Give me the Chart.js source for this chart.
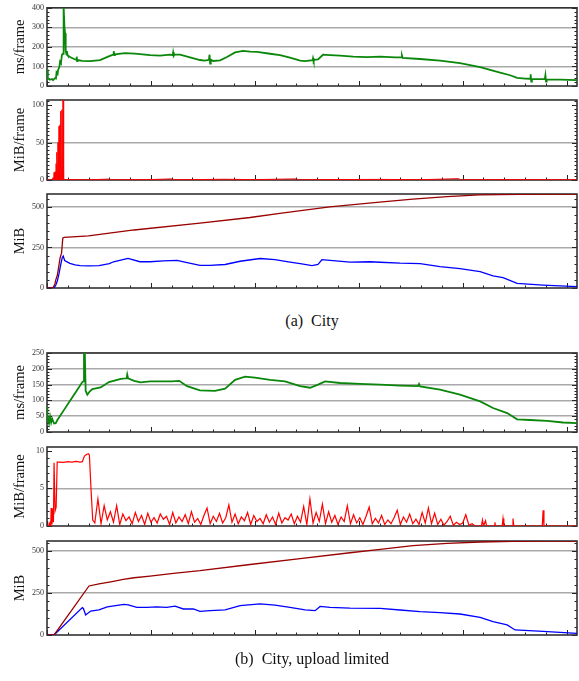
<!DOCTYPE html>
<html>
<head>
<meta charset="utf-8">
<script src="https://cdn.jsdelivr.net/npm/chart.js@4.4.0/dist/chart.umd.min.js"></script>
<style>
  html, body { margin: 0; padding: 0; background: #fff; }
  #page { position: relative; width: 579px; height: 681px; overflow: hidden; }
  .panel { position: absolute; left: 0; }
  .cap { position: absolute; left: 47px; width: 530px; text-align: center;
         font: 16px "Liberation Serif", serif; color: #111; white-space: pre; }
</style>
</head>
<body>
<div id="page">
  <canvas class="panel" id="c1" width="579" height="94"  style="top:0px"></canvas>
  <canvas class="panel" id="c2" width="579" height="96"  style="top:92px"></canvas>
  <canvas class="panel" id="c3" width="579" height="110" style="top:186px"></canvas>
  <div class="cap" style="top:312px">(a)  City</div>
  <canvas class="panel" id="c4" width="579" height="95"  style="top:345px"></canvas>
  <canvas class="panel" id="c5" width="579" height="95"  style="top:439px"></canvas>
  <canvas class="panel" id="c6" width="579" height="110" style="top:533px"></canvas>
  <div class="cap" style="top:650px">(b)  City, upload limited</div>
</div>
<script>
// x axis: frame time, minor tick every 10, major every 50
const X_MAX = 255
const X_MINOR = 10
const X_MAJOR = 50

// (a) City — latency, ms/frame  [x, value]
const cityLatency = [
  [0, 85], [0.4, 40], [1.4, 32], [2.4, 36], [2.9, 30], [3.8, 40], [4.3, 38], [4.6, 70],
  [5.1, 62], [5.3, 80], [6.0, 100], [6.3, 125], [6.7, 118], [7.2, 160], [7.7, 165], [7.9, 172],
  [8.1, 410], [8.4, 300], [8.7, 270], [9.0, 180], [9.4, 160], [9.6, 178], [9.8, 160], [10.1, 155],
  [11.1, 148], [13.0, 138], [14.0, 135], [14.3, 150], [14.5, 128], [14.7, 133], [16.8, 128],
  [20.7, 127], [25.5, 132], [29.4, 150], [31.8, 160], [32.1, 178], [32.4, 158], [32.7, 162],
  [37.5, 168], [42.3, 166], [49.6, 158], [54.4, 155], [59.2, 160], [60.5, 158], [60.7, 172],
  [61.0, 155], [61.3, 160], [64.0, 160], [68.8, 147], [73.6, 133], [76.0, 130], [77.9, 134],
  [78.2, 160], [78.5, 115], [78.8, 135], [79.9, 128], [83.3, 131], [86.6, 148], [90.5, 172],
  [94.3, 180], [97.7, 176], [101.1, 175], [107.3, 165], [112.1, 158], [116.9, 145], [121.8, 130],
  [124.2, 127], [127.8, 132], [128.0, 142], [128.3, 128], [128.6, 134], [130.4, 136], [132.8, 160],
  [136.2, 158], [141, 155], [147.3, 150], [154, 148], [160.3, 150], [167.5, 146], [170.5, 146],
  [170.8, 155], [171.1, 144], [179.5, 138], [189.1, 130], [198.7, 117], [208.4, 97], [218, 68],
  [222.8, 55], [226.2, 42], [230, 38], [232.4, 37], [232.7, 60], [233.0, 22], [233.3, 36],
  [239.5, 35], [239.8, 55], [240.1, 22], [240.4, 34], [246.9, 33], [255, 30]
]

// (a) City — upload, MiB/frame
const cityUpload = [
  [0, 0], [2.5, 0], [2.9, 3], [3.2, 0], [3.4, 10], [3.7, 0], [3.9, 11], [4.2, 0], [4.4, 22],
  [4.6, 0], [4.8, 37], [5.1, 0], [5.3, 50], [5.5, 0], [5.8, 72], [6.0, 0], [6.3, 74], [6.5, 0],
  [6.7, 92], [7.0, 0], [7.2, 94], [7.5, 0], [7.7, 115], [8.0, 0], [10, 0.5], [20, 0.3],
  [30, 1.2], [31, 0.3], [50, 0.6], [60, 1.5], [61, 0.4], [70, 0.5], [85, 1.0], [100, 0.5],
  [120, 1.5], [121, 0.3], [140, 0.6], [160, 0.8], [180, 0.4], [198, 1.8], [199, 0.3],
  [220, 0.5], [240, 0.4], [255, 0.3]
]

// (a) City — total uploaded MiB (dark red) and resident MiB (blue)
const cityTotal = [
  [0, 0], [2.9, 2], [3.8, 25], [4.2, 49], [5.0, 80], [6.3, 185], [7.0, 215], [7.6, 308],
  [8.2, 312], [20, 322], [30, 338], [41.9, 358], [73.6, 400], [97.7, 435], [112, 460],
  [136, 500], [160, 530], [176, 548], [192.5, 564], [208, 574], [227.6, 578], [255, 580]
]
const cityMemory = [
  [0, 0], [3.5, 2], [4.3, 20], [5.0, 45], [5.8, 90], [6.7, 150], [7.3, 185], [7.8, 197],
  [8.5, 170], [9.9, 160], [11, 152], [13.5, 142], [16, 138], [20, 136], [25, 138], [30, 150],
  [32, 162], [38, 180], [39, 183], [44.7, 162], [49.6, 162], [56, 167], [62.6, 170], [67.4, 157],
  [73.6, 140], [78.4, 140], [85.7, 145], [92.9, 165], [102.5, 182], [109.7, 175], [116.9, 160],
  [121.8, 150], [127.5, 138], [130.4, 145], [132.3, 175], [136.2, 170], [145.8, 160],
  [155.4, 162], [160.3, 159], [169.9, 153], [179.5, 150], [189.1, 132], [198.7, 119],
  [208.4, 101], [214.6, 75], [219.4, 64], [226.2, 29], [238.7, 18], [255, 8]
]

// (b) City, upload limited — latency, ms/frame
const limitedLatency = [
  [0, 80], [0.2, 30], [0.5, 45], [1, 28], [1.5, 48], [2, 30], [2.5, 42], [3.4, 27], [4.2, 28],
  [5, 38], [8.2, 70], [11.4, 102], [14.6, 134], [17, 158], [17.5, 160], [17.8, 262], [18.2, 250],
  [18.6, 130], [19.4, 118], [20.5, 128], [21.8, 136], [25.8, 141], [29.8, 158], [35.5, 168],
  [38.3, 170], [38.6, 182], [39, 170], [41.9, 162], [45, 157], [49.6, 160], [60, 160],
  [63.6, 162], [67.4, 145], [73.6, 132], [80.8, 130], [85.7, 137], [90.5, 165], [95.3, 175],
  [100.1, 172], [107.3, 165], [114.5, 160], [121.8, 145], [126.6, 140], [130.4, 150],
  [133.8, 160], [141, 155], [150.6, 152], [160.3, 150], [169.9, 147], [178.5, 145], [179, 152],
  [179.5, 144], [189.1, 134], [198.7, 118], [208.4, 97], [214.6, 76], [221.4, 60], [226.2, 40],
  [232.4, 38], [240.6, 35], [248.3, 30], [255, 28]
]

// (b) upload, MiB/frame: start-up, steady noisy part (x = 23, 24.5, 26 ...), tail
const limitedUploadHead = [
  [0, 0], [0.8, 0], [1, 0.3], [1.2, 0], [1.6, 0.4], [1.8, 0], [2.0, 2.4], [2.4, 0.2], [2.9, 2.3],
  [3.1, 0.5], [3.4, 8.4], [3.9, 2], [4.4, 2.5], [4.9, 8.5], [6, 8.5], [8, 8.45], [10, 8.55],
  [12, 8.5], [14, 8.6], [16, 8.5], [17, 8.55], [18, 9.3], [19, 9.5], [20, 9.6], [20.4, 9.4],
  [21.2, 4.8], [22, 0.8]
]
const NOISE_X0 = 23
const NOISE_DX = 1.5
const limitedUploadNoise = [
  0.4, 3.6, 0.3, 2.7, 0.8, 1.9, 0.5, 2.7, 0.2, 1.6, 0.7, 1.2, 0.3, 1.8, 0.6, 1.4, 0.2, 1.7, 0.5, 1.1,
  0.4, 1.6, 0.9, 1.3, 0.2, 1.8, 0.4, 1.2, 0.6, 1.5, 0.3, 1.9, 0.5, 1.0, 0.2, 1.4, 2.4, 0.3, 1.3, 0.6,
  1.7, 0.4, 1.1, 2.8, 0.5, 1.6, 0.3, 1.2, 0.7, 1.8, 0.2, 1.4, 0.6, 1.0, 0.3, 1.5, 0.5, 1.2, 0.2, 1.7,
  0.4, 1.1, 0.8, 1.6, 0.3, 1.3, 0.5, 2.6, 0.2, 3.6, 0.4, 1.8, 0.6, 2.9, 0.3, 1.9, 0.5, 1.4, 0.2, 1.2,
  0.6, 2.7, 0.3, 1.5, 0.4, 1.1, 0.2, 1.3, 2.5, 0.3, 1.0, 0.4, 1.4, 0.2, 0.8, 0.3, 1.1, 2.1, 0.2, 1.2,
  0.5, 1.6, 0.3, 0.9, 0.2, 1.8, 0.4, 2.4, 0.3, 1.7, 0.2, 0.9, 0.1, 0.6, 1.3, 0.1, 0.5, 0.2, 0.4, 1.5,
  0.1, 0.3
]
const limitedUploadTail = [
  [206, 0], [209, 0], [209.5, 0.8], [210, 0], [211, 0.7], [211.5, 0], [215.2, 0], [215.5, 0.5],
  [215.8, 0], [219, 0], [219.4, 1.0], [219.8, 0], [223.8, 0], [224.2, 1.0], [224.6, 0],
  [238.3, 0], [238.7, 2.1], [239.1, 0], [255, 0]
]

// (b) total uploaded MiB and resident MiB
const limitedTotal = [
  [0, 0], [3.4, 0], [20.2, 292], [25, 305], [30.7, 317], [36.7, 331], [41.9, 341], [49.6, 351],
  [60.8, 367], [73.6, 383], [97.7, 420], [121.8, 455], [145.8, 490], [160.3, 510], [176.1, 532],
  [192.5, 546], [208.4, 554], [224.3, 558], [240.6, 560], [255, 560]
]
const limitedMemory = [
  [0, 0], [3.4, 0], [17, 163], [17.5, 158], [18.6, 119], [21, 143], [25, 150], [29, 168],
  [37, 183], [39.1, 180], [43.2, 165], [48, 165], [52.8, 168], [57.6, 165], [61.6, 172],
  [65.6, 155], [70.4, 155], [73.6, 141], [78.4, 145], [85.7, 150], [92.9, 175], [102.5, 185],
  [109.7, 178], [116.9, 165], [124.2, 150], [129, 145], [131.4, 170], [136.2, 165], [145.8, 160],
  [160.3, 159], [169.9, 149], [179.5, 139], [189.1, 133], [198.7, 125], [208.4, 105],
  [214.6, 79], [221.4, 60], [225.2, 30], [238.7, 22], [255, 10]
]

const GREEN = '#0a870a'
const RED = '#ff0000'
const DARKRED = '#990000'
const BLUE = '#0000ff'
const GRID = '#a9a9a9'
const FONT = '"Liberation Serif", "Times New Roman", serif'

const toXY = pairs => pairs.map(([x, y]) => ({ x, y }))

// frame and inward ticks, placed through the chart's own scales
const frameTicks = {
  id: 'frameTicks',
  beforeDatasetsDraw(chart, args, opts) {
    const { ctx, chartArea: a, scales: { x, y } } = chart
    ctx.save()
    ctx.strokeStyle = '#222'
    ctx.lineWidth = 1
    ctx.beginPath()
    for (let v = 0; v <= X_MAX; v += X_MINOR) {
      const px = Math.round(x.getPixelForValue(v)) + 0.5
      const len = v % X_MAJOR === 0 ? 5 : 2.5
      ctx.moveTo(px, a.bottom)
      ctx.lineTo(px, a.bottom - len)
    }
    for (let v = 0; v <= opts.max + 1e-9; v += opts.minor) {
      const py = Math.round(y.getPixelForValue(v)) + 0.5
      const len = opts.labels.includes(v) ? 5 : 2.5
      ctx.moveTo(a.left, py)
      ctx.lineTo(a.left + len, py)
      ctx.moveTo(a.right, py)
      ctx.lineTo(a.right - len, py)
    }
    ctx.stroke()
    ctx.lineWidth = 1.6
    ctx.strokeStyle = '#333'
    ctx.strokeRect(a.left, a.top, a.right - a.left, a.bottom - a.top)
    ctx.restore()
  }
}

function makePanel(id, { title, max, minor, labels, grid, padTop = 8, datasets }) {
  return new Chart(document.getElementById(id), {
    type: 'line',
    data: { datasets },
    plugins: [frameTicks],
    options: {
      responsive: false,
      animation: false,
      devicePixelRatio: 1,
      layout: { padding: { top: padTop, bottom: 8, left: 0, right: 2 } },
      elements: { point: { radius: 0 }, line: { tension: 0 } },
      plugins: {
        legend: { display: false },
        tooltip: { enabled: false },
        frameTicks: { max, minor, labels }
      },
      scales: {
        x: { type: 'linear', min: 0, max: X_MAX, display: false },
        y: {
          type: 'linear',
          min: 0,
          max,
          afterFit: s => { s.width = 47 },
          afterBuildTicks: s => { s.ticks = labels.map(value => ({ value })) },
          border: { display: false },
          grid: {
            drawTicks: false,
            lineWidth: 1.5,
            color: c => (grid.includes(c.tick.value) ? GRID : 'rgba(0,0,0,0)')
          },
          ticks: {
            autoSkip: false,
            padding: 3,
            color: '#333',
            font: { family: FONT, size: 8 },
            callback: v => String(v)
          },
          title: {
            display: true,
            text: title,
            color: '#111',
            font: { family: FONT, size: 14.5 },
            padding: { top: 11, bottom: 0 }
          }
        }
      }
    }
  })
}

const line = (data, color, width) => ({
  data: toXY(data), borderColor: color, borderWidth: width, fill: false
})

const limitedUpload = [
  ...limitedUploadHead,
  ...limitedUploadNoise.map((v, i) => [NOISE_X0 + i * NOISE_DX, v]),
  ...limitedUploadTail
]

makePanel('c1', {
  title: 'ms/frame', max: 400, minor: 20, labels: [0, 100, 200, 300, 400],
  grid: [100, 200, 300, 400], padTop: 7,
  datasets: [line(cityLatency, GREEN, 1.8)]
})
makePanel('c2', {
  title: 'MiB/frame', max: 107, minor: 5, labels: [0, 50, 100], grid: [50],
  datasets: [line(cityUpload, RED, 1)]
})
makePanel('c3', {
  title: 'MiB', max: 580, minor: 50, labels: [0, 250, 500], grid: [250, 500],
  datasets: [line(cityTotal, DARKRED, 1.3), line(cityMemory, BLUE, 1.3)]
})
makePanel('c4', {
  title: 'ms/frame', max: 250, minor: 10, labels: [0, 50, 100, 150, 200, 250],
  grid: [50, 100, 150, 200, 250],
  datasets: [line(limitedLatency, GREEN, 1.8)]
})
makePanel('c5', {
  title: 'MiB/frame', max: 10.5, minor: 1, labels: [0, 5, 10], grid: [5],
  datasets: [line(limitedUpload, RED, 1.2)]
})
makePanel('c6', {
  title: 'MiB', max: 560, minor: 50, labels: [0, 250, 500], grid: [250, 500],
  datasets: [line(limitedTotal, DARKRED, 1.3), line(limitedMemory, BLUE, 1.3)]
})
</script>
</body>
</html>
